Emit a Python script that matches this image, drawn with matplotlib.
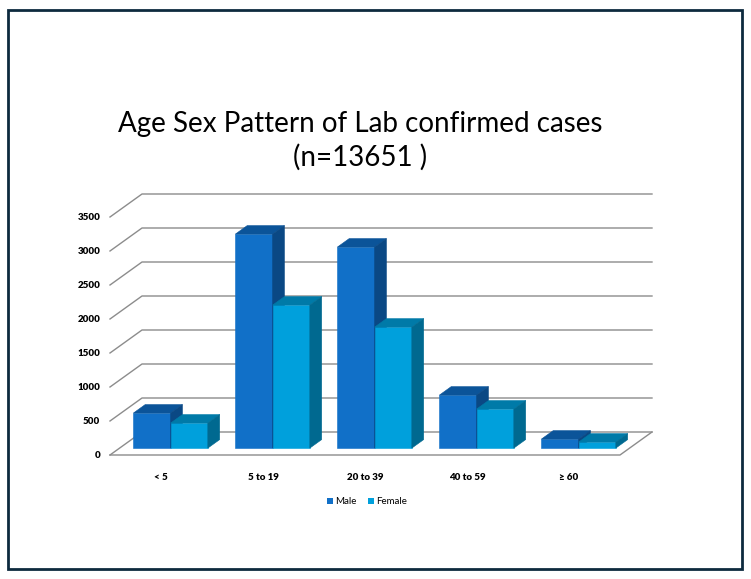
import matplotlib
matplotlib.use('Agg')
import matplotlib.pyplot as plt
from matplotlib.patches import Polygon, Rectangle

categories = ['< 5', '5 to 19', '20 to 39', '40 to 59', '\u2265 60']
male = [515, 3147, 2956, 779, 132]
female = [368, 2103, 1779, 574, 88]
yticks = [0, 500, 1000, 1500, 2000, 2500, 3000, 3500]
title = 'Age Sex Pattern of Lab confirmed cases\n(n=13651 )'

# colours: front, top, side
male_c = ('#1170c8', '#0b5499', '#0a4884')
female_c = ('#00a0dc', '#007aa8', '#006990')

W, H = 751, 579
fig = plt.figure(figsize=(W / 100, H / 100), dpi=100)
ax = fig.add_axes([110 / W, 124 / H, 542 / W, 261 / H])

# depth of the box (wall offset) in data units
ddx = 32 / 102
ddy = 23 / 34 * 500
ymax = yticks[-1]
ax.set_xlim(-0.5, len(categories) - 0.5 + ddx)
ax.set_ylim(0, ymax + ddy)
for s in ax.spines.values():
    s.set_visible(False)

grid = dict(color='#8c8c8c', lw=1.0, zorder=1, clip_on=False)
x_left = -0.5
x_right = len(categories) - 0.5
for v in yticks:
    ax.plot([x_left, x_left + ddx, x_right + ddx], [v, v + ddy, v + ddy], **grid)
# floor outline
ax.plot([x_left, x_right, x_right + ddx], [0, 0, ddy], **grid)

d0, d1 = 0.30, 0.67
w = 0.365


def bar3d(x0, h, cols):
    ox0, oy0 = d0 * ddx, d0 * ddy
    ox1, oy1 = d1 * ddx, d1 * ddy
    front = [(x0 + ox0, oy0), (x0 + w + ox0, oy0), (x0 + w + ox0, h + oy0), (x0 + ox0, h + oy0)]
    top = [(x0 + ox0, h + oy0), (x0 + w + ox0, h + oy0), (x0 + w + ox1, h + oy1), (x0 + ox1, h + oy1)]
    side = [(x0 + w + ox0, oy0), (x0 + w + ox1, oy1), (x0 + w + ox1, h + oy1), (x0 + w + ox0, h + oy0)]
    for pts, c in zip((front, top, side), cols):
        ax.add_patch(Polygon(pts, closed=True, facecolor=c, edgecolor=c, lw=0.4, zorder=3, clip_on=False))


for i in range(len(categories)):
    bar3d(i - w, male[i], male_c)
    bar3d(i, female[i], female_c)

ax.set_yticks(yticks)
ax.set_yticklabels([str(v) for v in yticks], fontsize=7, fontweight='heavy', family='Lato')
ax.set_xticks(range(len(categories)))
ax.set_xticklabels(categories, fontsize=7, fontweight='heavy', family=['Lato', 'DejaVu Sans'])
ax.tick_params(axis='y', length=0, pad=7)
ax.tick_params(axis='x', length=0, pad=13)
for t in ax.get_yticklabels():
    t.set_y(t.get_position()[1])
    t.set_va('center')

fig.text(360 / W, 1 - 141 / H, title, ha='center', va='center', fontsize=20,
         family='Lato', linespacing=1.3)

# legend
lx = [327, 368]
names = ['Male', 'Female']
for x, n, c in zip(lx, names, (male_c[0], female_c[0])):
    fig.patches.append(Rectangle((x / W, 1 - 504 / H), 6 / W, 6 / H, transform=fig.transFigure,
                                 facecolor=c, edgecolor='none'))
    fig.text((x + 8) / W, 1 - 501 / H, n, fontsize=7, family='Lato', va='center', ha='left')

fig.patches.append(Rectangle((8 / W, 1 - 569 / H), 734 / W, 559 / H, transform=fig.transFigure,
                             facecolor='none', edgecolor='#0d2a3e', lw=2))

fig.savefig('out.png', dpi=100)
